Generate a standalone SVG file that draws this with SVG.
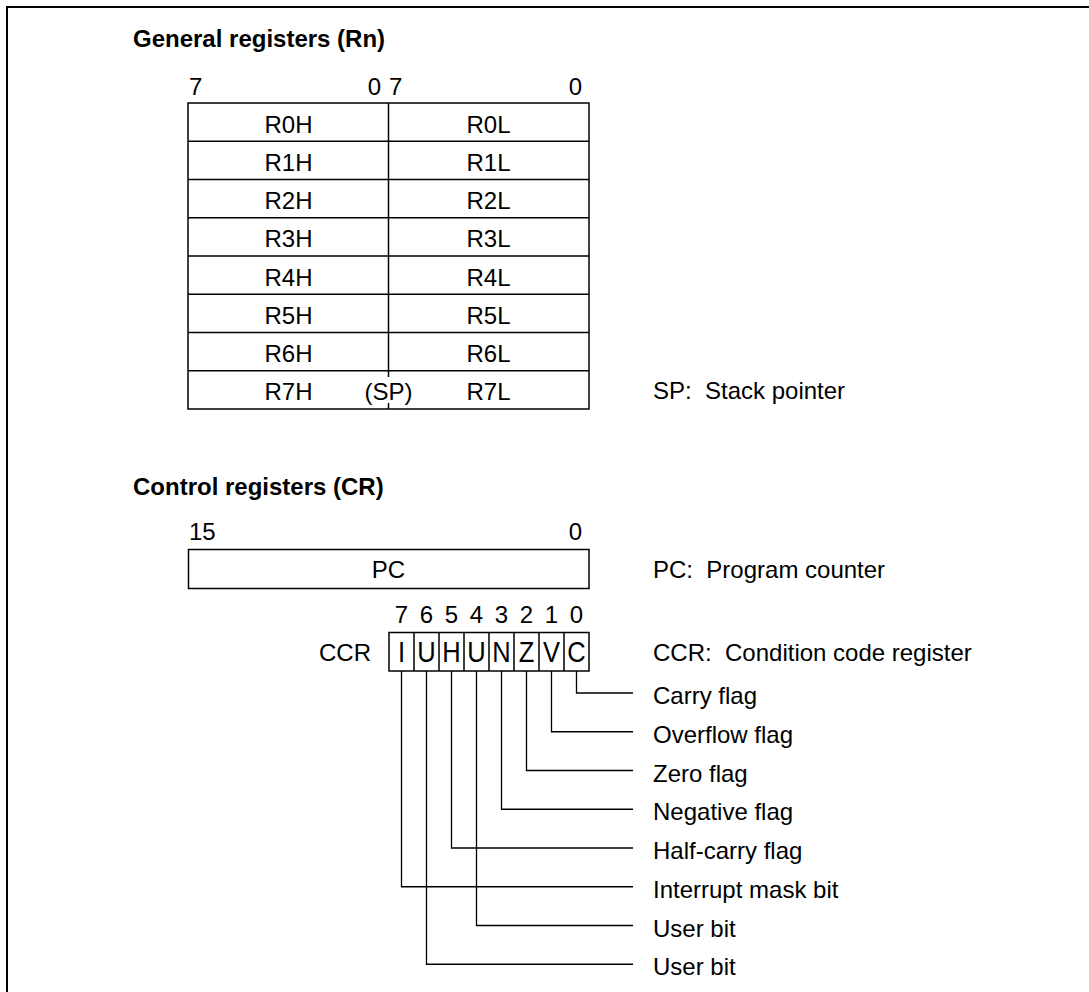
<svg xmlns="http://www.w3.org/2000/svg" width="1089" height="992" viewBox="0 0 1089 992">
<style>
text{font-family:"Liberation Sans",Arial,sans-serif;font-size:24px;fill:#000;white-space:pre}
.t{font-weight:bold}
.c{text-anchor:middle}
.e{text-anchor:end}
.box{fill:#fff;stroke:#000;stroke-width:1.5}
.ln{fill:none;stroke:#000;stroke-width:1.5}
.cn{fill:none;stroke:#000;stroke-width:1.3}
.big{font-size:30px}
</style>
<rect width="1089" height="992" fill="#fff"/>
<path d="M7,992 V7 H1089" fill="none" stroke="#000" stroke-width="2"/>

<g id="title-general">
<text class="t" x="133" y="47">General registers (Rn)</text>
</g>

<g id="gen-regs">
<text x="189" y="95">7</text>
<text class="e" x="381" y="95">0</text>
<text x="389" y="95">7</text>
<text class="e" x="582" y="95">0</text>
<rect class="box" x="188" y="103" width="401" height="306"/>
<path class="ln" d="M188,141.25H589M188,179.5H589M188,217.75H589M188,256H589M188,294.25H589M188,332.5H589M188,370.75H589M388.5,103V377M388.5,403V409"/>
<text class="c" x="288.5" y="132.5">R0H</text><text class="c" x="488.5" y="132.5">R0L</text>
<text class="c" x="288.5" y="170.75">R1H</text><text class="c" x="488.5" y="170.75">R1L</text>
<text class="c" x="288.5" y="209">R2H</text><text class="c" x="488.5" y="209">R2L</text>
<text class="c" x="288.5" y="247.25">R3H</text><text class="c" x="488.5" y="247.25">R3L</text>
<text class="c" x="288.5" y="285.5">R4H</text><text class="c" x="488.5" y="285.5">R4L</text>
<text class="c" x="288.5" y="323.75">R5H</text><text class="c" x="488.5" y="323.75">R5L</text>
<text class="c" x="288.5" y="362">R6H</text><text class="c" x="488.5" y="362">R6L</text>
<text class="c" x="288.5" y="400">R7H</text><text class="c" x="388.5" y="400">(SP)</text><text class="c" x="488.5" y="400">R7L</text>
</g>

<g id="sp-note">
<text x="653" y="399">SP:  Stack pointer</text>
</g>

<g id="title-control">
<text class="t" x="133" y="495">Control registers (CR)</text>
</g>

<g id="pc">
<text x="189" y="540">15</text>
<text class="e" x="582" y="540">0</text>
<rect class="box" x="188.5" y="549.5" width="400.5" height="39"/>
<text class="c" x="388.5" y="578">PC</text>
</g>

<g id="pc-note">
<text x="653" y="578">PC:  Program counter</text>
</g>

<g id="ccr">
<text class="e" x="371" y="661">CCR</text>
<text class="c" x="401.5" y="623">7</text>
<text class="c" x="426.5" y="623">6</text>
<text class="c" x="451.5" y="623">5</text>
<text class="c" x="476.5" y="623">4</text>
<text class="c" x="501.5" y="623">3</text>
<text class="c" x="526.5" y="623">2</text>
<text class="c" x="551.5" y="623">1</text>
<text class="c" x="576.5" y="623">0</text>
<rect class="box" x="389" y="632.5" width="200" height="38.5"/>
<path class="ln" d="M414,632.5V671M439,632.5V671M464,632.5V671M489,632.5V671M514,632.5V671M539,632.5V671M564,632.5V671"/>
<text class="c big" transform="translate(401.5,662) scale(0.85,1)">I</text>
<text class="c big" transform="translate(426.5,662) scale(0.85,1)">U</text>
<text class="c big" transform="translate(451.5,662) scale(0.85,1)">H</text>
<text class="c big" transform="translate(476.5,662) scale(0.85,1)">U</text>
<text class="c big" transform="translate(501.5,662) scale(0.85,1)">N</text>
<text class="c big" transform="translate(526.5,662) scale(0.85,1)">Z</text>
<text class="c big" transform="translate(551.5,662) scale(0.85,1)">V</text>
<text class="c big" transform="translate(576.5,662) scale(0.85,1)">C</text>
</g>

<g id="ccr-note">
<text x="653" y="661">CCR:  Condition code register</text>
</g>

<g id="flag-labels">
<text x="653" y="704">Carry flag</text>
<text x="653" y="742.75">Overflow flag</text>
<text x="653" y="781.5">Zero flag</text>
<text x="653" y="820.25">Negative flag</text>
<text x="653" y="859">Half-carry flag</text>
<text x="653" y="897.75">Interrupt mask bit</text>
<text x="653" y="936.5">User bit</text>
<text x="653" y="975.25">User bit</text>
</g>

<g id="connectors">
<path class="cn" d="M576.5,671V693H633"/>
<path class="cn" d="M551.5,671V731.75H633"/>
<path class="cn" d="M526.5,671V770.5H633"/>
<path class="cn" d="M501.5,671V809.25H633"/>
<path class="cn" d="M451.5,671V848H633"/>
<path class="cn" d="M401.5,671V886.75H633"/>
<path class="cn" d="M476.5,671V925.5H633"/>
<path class="cn" d="M426.5,671V964.25H633"/>
</g>
</svg>
